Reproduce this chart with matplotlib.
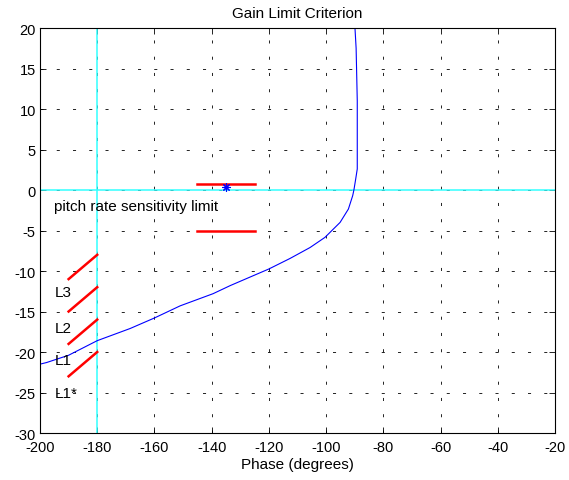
import matplotlib
matplotlib.use("Agg")
import matplotlib.pyplot as plt

plt.rcParams['font.family'] = ['Liberation Sans', 'DejaVu Sans']
plt.rcParams['lines.scale_dashes'] = False
plt.rcParams['axes.unicode_minus'] = False

# nichols curve (phase in degrees, gain in dB)
phase = [-200, -197.7, -190, -180, -168.5, -160, -151, -139.5, -133.5, -120,
         -112.6, -105.6, -100.4, -95.1, -92.2, -90.7, -90.25, -89.65, -89.1,
         -89.1, -89.5, -89.9]
gain = [-21.5, -21.3, -20.4, -18.6, -17.1, -15.8, -14.3, -12.8, -11.8, -9.75,
        -8.45, -7.1, -5.85, -4.0, -2.35, -0.7, 0.05, 1.35, 2.6,
        11, 17.5, 20]

# pitch rate sensitivity limit bars
limit_x = [-145, -125]
limit_upper = 0.8
limit_lower = -5
point_x = -135
point_y = 0.4

# L boundary segments
seg_x = [-190, -180]
seg_y = [(-11, -8), (-15, -12), (-19, -16), (-23, -20)]
seg_labels = ["L3", "L2", "L1", "L1*"]
label_y = [-12.6, -17, -21, -25]

xticks = list(range(-200, -19, 20))
yticks = list(range(-30, 21, 5))

fig = plt.figure(figsize=(5.69, 4.81), dpi=100)
ax = fig.add_axes([0.0703, 0.0977, 0.905, 0.842])

ax.set_xlim(-200, -20)
ax.set_ylim(-30, 20)
ax.set_xticks(xticks)
ax.set_yticks(yticks)
ax.grid(True, color='black', linewidth=0.6, linestyle=(0, (2.2, 9.5)))
ax.tick_params(direction='in', length=4, width=0.6, top=True, right=True,
               labelsize=10.5, pad=3)
ax.tick_params(axis='x', pad=5)
for s in ax.spines.values():
    s.set_linewidth(0.8)

ax.axvline(-180, color='#33FFFF', linewidth=1.1)
ax.axhline(0, color='#33FFFF', linewidth=1.1)

ax.plot(phase, gain, color='#0000FF', linewidth=0.8)

ax.plot(limit_x, [limit_upper, limit_upper], color='red', linewidth=1.8)
ax.plot(limit_x, [limit_lower, limit_lower], color='red', linewidth=1.8)
ax.plot([point_x], [point_y], color='#0000FF', marker=(8, 2, 0), markersize=6,
        markeredgewidth=0.8, linestyle='none')

for ys in seg_y:
    ax.plot(seg_x, list(ys), color='red', linewidth=1.8)
for lab, ly in zip(seg_labels, label_y):
    ax.text(-195, ly, lab, fontsize=11, va='center', ha='left')

ax.text(-195, -2, "pitch rate sensitivity limit", fontsize=11, va='center', ha='left')

ax.set_title("Gain Limit Criterion", fontsize=11, pad=8)
ax.set_xlabel("Phase (degrees)", fontsize=11, labelpad=2)

fig.savefig("out.png", dpi=100)
